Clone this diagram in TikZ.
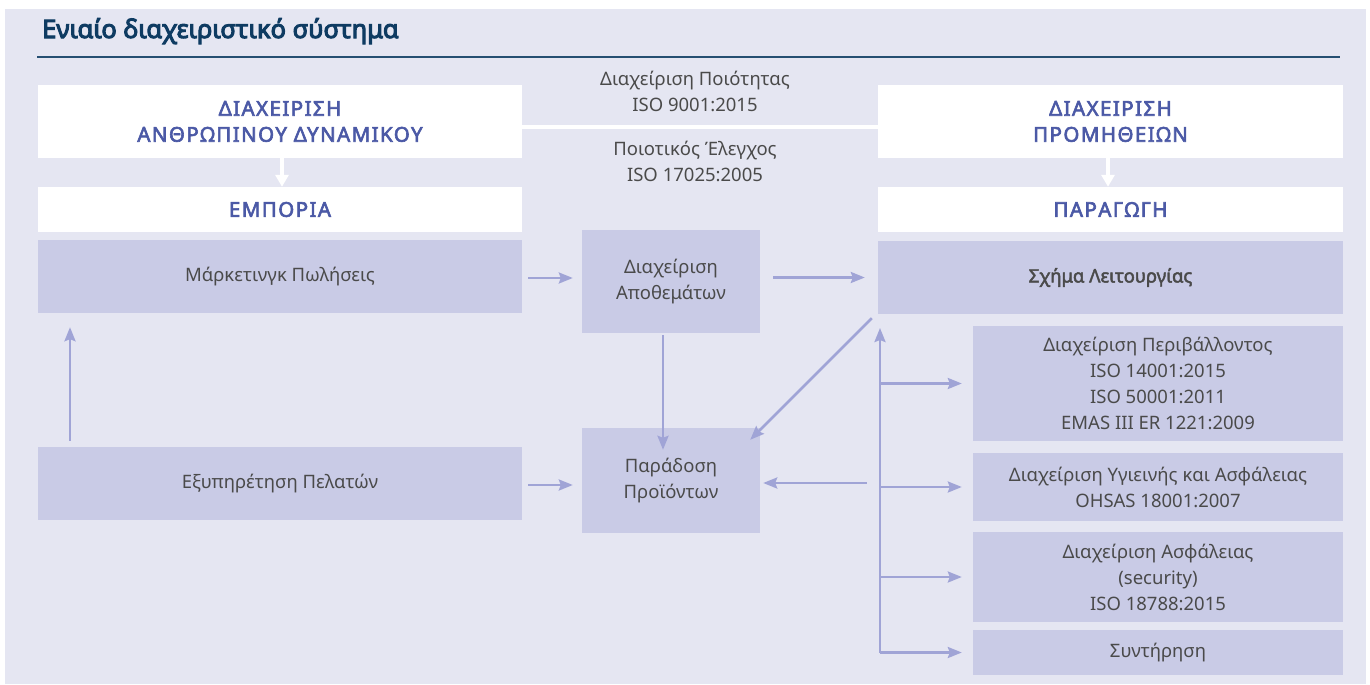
\documentclass[tikz,border=0pt]{standalone}
\usepackage{fontspec}
\setmainfont{Noto Sans}
\newfontfamily\heavyface{Noto Sans}[FakeBold=4]
\newfontfamily\semiface{Noto Sans}[FakeBold=2.5]
\newfontfamily\capsface{Noto Sans}[FakeBold=3,LetterSpace=7]
\usetikzlibrary{arrows.meta}
\definecolor{pagebg}{HTML}{E5E6F2}
\definecolor{boxfill}{HTML}{C9CBE6}
\definecolor{flowline}{HTML}{A0A4D6}
\definecolor{headtext}{HTML}{4B59A6}
\definecolor{bodytext}{HTML}{4A4A4A}
\definecolor{titletext}{HTML}{0E3B62}
\newcommand{\bodyfont}{\fontsize{18.5}{26}\selectfont}
\newcommand{\headfont}{\capsface\fontsize{20.5}{26}\selectfont}
\newcommand{\branch}[1]{%kwargs target node
  \draw[flow] (bustop |- #1.west) -- ([xshift=-11pt]#1.west);
}
\tikzset{
  headbox/.style={fill=white, text=headtext, font=\headfont, align=center, inner sep=0pt},
  plainbox/.style={fill=boxfill, text=bodytext, font=\bodyfont, align=center, inner sep=0pt},
  flow/.style={draw=flowline, line width=2.5pt, -{Stealth[length=14pt,width=11pt,inset=2pt]}},
  whiteflow/.style={draw=white, line width=4pt, -{Triangle[length=12pt,width=13pt]}}
}

\begin{document}
\begin{tikzpicture}[x=1pt,y=-1pt]
    %page and background
    \useasboundingbox (0,0) rectangle (1370,685);
    \fill[white] (0,0) rectangle (1370,685);
    \fill[pagebg] (5,9) rectangle (1366,684);
    %title
    \node[anchor=base west, text=titletext, font=\heavyface\fontsize{25.5}{28}\selectfont, inner sep=0pt] (title) at (42,38) {Ενιαίο διαχειριστικό σύστημα};
    \draw[titletext!90!white, line width=2pt] (37,57) -- (1340,57);
    %left column
    \node[headbox, minimum width=484, minimum height=73] (hrm) at (280,121.5) {ΔΙΑΧΕΙΡΙΣΗ\\ΑΝΘΡΩΠΙΝΟΥ ΔΥΝΑΜΙΚΟΥ};
    \node[headbox, minimum width=484, minimum height=45] (trade) at (280,209.5) {ΕΜΠΟΡΙΑ};
    \node[plainbox, minimum width=484, minimum height=73] (mkt) at (280,276.5) {Μάρκετινγκ Πωλήσεις};
    \node[plainbox, minimum width=484, minimum height=73] (cust) at (280,483.5) {Εξυπηρέτηση Πελατών};
    %right column
    \node[headbox, minimum width=465, minimum height=73] (supply) at (1110.5,121.5) {ΔΙΑΧΕΙΡΙΣΗ\\ΠΡΟΜΗΘΕΙΩΝ};
    \node[headbox, minimum width=465, minimum height=45] (prod) at (1110.5,209.5) {ΠΑΡΑΓΩΓΗ};
    \node[plainbox, minimum width=465, minimum height=73, font=\semiface\bodyfont] (ops) at (1110.5,277.5) {Σχήμα Λειτουργίας};
    \node[plainbox, minimum width=370, minimum height=115] (env) at (1158,383.5) {Διαχείριση Περιβάλλοντος\\ISO 14001:2015\\ISO 50001:2011\\EMAS III ER 1221:2009};
    \node[plainbox, minimum width=370, minimum height=68] (health) at (1158,487) {Διαχείριση Υγιεινής και Ασφάλειας\\OHSAS 18001:2007};
    \node[plainbox, minimum width=370, minimum height=90] (sec) at (1158,577) {Διαχείριση Ασφάλειας\\(security)\\ISO 18788:2015};
    \node[plainbox, minimum width=370, minimum height=45] (maint) at (1158,652.5) {Συντήρηση};
    %middle column
    \node[plainbox, minimum width=178, minimum height=103] (stock) at (671,281.5) {Διαχείριση\\Αποθεμάτων};
    \node[plainbox, minimum width=178, minimum height=105] (deliv) at (671,480.5) {Παράδοση\\Προϊόντων};
    \node[text=bodytext, font=\bodyfont, align=center] (quality) at (695,91) {Διαχείριση Ποιότητας\\ISO 9001:2015};
    \node[text=bodytext, font=\bodyfont, align=center] (control) at (695,161.5) {Ποιοτικός Έλεγχος\\ISO 17025:2005};
    \draw[white, line width=4pt] ([yshift=-5.5pt]hrm.east) -- ([yshift=-5.5pt]supply.west);
    %white arrows
    \draw[whiteflow] ([xshift=2pt]hrm.south) -- ([xshift=2pt]trade.north);
    \draw[whiteflow] ([xshift=-2.5pt]supply.south) -- ([xshift=-2.5pt]prod.north);
    %flows
    \draw[flow] ([xshift=-210pt,yshift=6pt]cust.north) -- ([xshift=-210pt,yshift=-14pt]mkt.south);
    \draw[flow] ([xshift=6pt,yshift=-1.5pt]mkt.east) -- ([xshift=-9pt,yshift=-1.5pt]mkt.east -| stock.west);
    \draw[flow] ([xshift=13pt]stock.east |- ops.west) -- ([xshift=-13pt]ops.west);
    \draw[flow] ([xshift=-8pt,yshift=-2pt]stock.south) -- ([xshift=-8pt,yshift=-22pt]deliv.north);
    \draw[flow] ([xshift=6pt,yshift=-1.5pt]cust.east) -- ([xshift=-9pt,yshift=-1.5pt]cust.east -| deliv.west);
    \draw[flow] ([xshift=-6pt,yshift=-4pt]ops.south west) -- ([xshift=-10pt,yshift=-12pt]deliv.north east);
    \draw[flow] ([xshift=-11pt,yshift=4pt]health.west -| ops.west) -- ([xshift=3pt,yshift=-2.5pt]deliv.east);
    %bus to the standards
    \coordinate (bustop) at (880,328);
    \draw[flow] (bustop |- maint.west) -- (bustop);
    \branch{env}
    \branch{health}
    \branch{sec}
    \branch{maint}
\end{tikzpicture}
\end{document}
